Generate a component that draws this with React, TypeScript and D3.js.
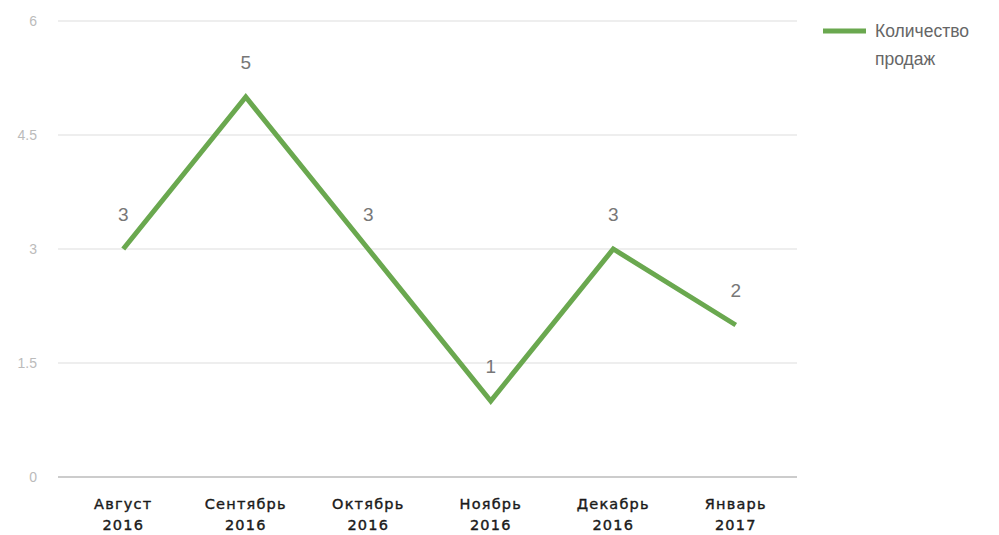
import React from "react";
import * as d3 from "d3";

const categories: string[][] = [
  ["Август", "2016"],
  ["Сентябрь", "2016"],
  ["Октябрь", "2016"],
  ["Ноябрь", "2016"],
  ["Декабрь", "2016"],
  ["Январь", "2017"],
];
const sales: number[] = [3, 5, 3, 1, 3, 2];
const yTicks: number[] = [0, 1.5, 3, 4.5, 6];
const yTickLabels: string[] = ["0", "1.5", "3", "4.5", "6"];
const seriesName: string[] = ["Количество", "продаж"];

export default function App() {
  const W = 999, H = 535;
  const left = 62, right = 797, top = 21, bottom = 477;
  const x = d3.scaleBand<number>().domain(d3.range(categories.length)).range([left, right]);
  const y = d3.scaleLinear().domain([0, 6]).range([bottom, top]);
  const line = d3.line<number>().x((_, i) => x(i)! + x.bandwidth() / 2).y((d) => y(d));
  const green = "#6aa84f";
  return (
    <svg width={W} height={H} style={{ position: "absolute", left: 0, top: 0, background: "#fff" }}>
      {yTicks.map((t, i) => (
        <g key={i}>
          <line x1={58} x2={right} y1={y(t)} y2={y(t)} stroke={t === 0 ? "#999" : "#ddd"} strokeWidth={1} />
          <text x={37} y={y(t)} dy="0.35em" textAnchor="end" fontFamily="Arial, Liberation Sans" fontSize={14} fill="#bbb">
            {yTickLabels[i]}
          </text>
        </g>
      ))}
      {categories.map((c, i) => (
        <text key={i} x={x(i)! + x.bandwidth() / 2} textAnchor="middle" fontFamily="DejaVu Sans" fontSize={14.5} fill="#1a1a1a" letterSpacing={1.2} stroke="#1a1a1a" strokeWidth={0.4}>
          <tspan x={x(i)! + x.bandwidth() / 2} y={509}>{c[0]}</tspan>
          <tspan x={x(i)! + x.bandwidth() / 2} y={530}>{c[1]}</tspan>
        </text>
      ))}
      <path d={line(sales) ?? ""} fill="none" stroke={green} strokeWidth={5} strokeLinejoin="miter" />
      {sales.map((v, i) => (
        <text key={i} x={x(i)! + x.bandwidth() / 2} y={y(v) - 28} textAnchor="middle" fontFamily="Arial, Liberation Sans" fontSize={19} fill="#777">
          {v}
        </text>
      ))}
      <line x1={823} x2={866} y1={31} y2={31} stroke={green} strokeWidth={5} />
      <text fontFamily="Arial, Liberation Sans" fontSize={17.5} fill="#666">
        <tspan x={875} y={37}>{seriesName[0]}</tspan>
        <tspan x={875} y={65}>{seriesName[1]}</tspan>
      </text>
    </svg>
  );
}
